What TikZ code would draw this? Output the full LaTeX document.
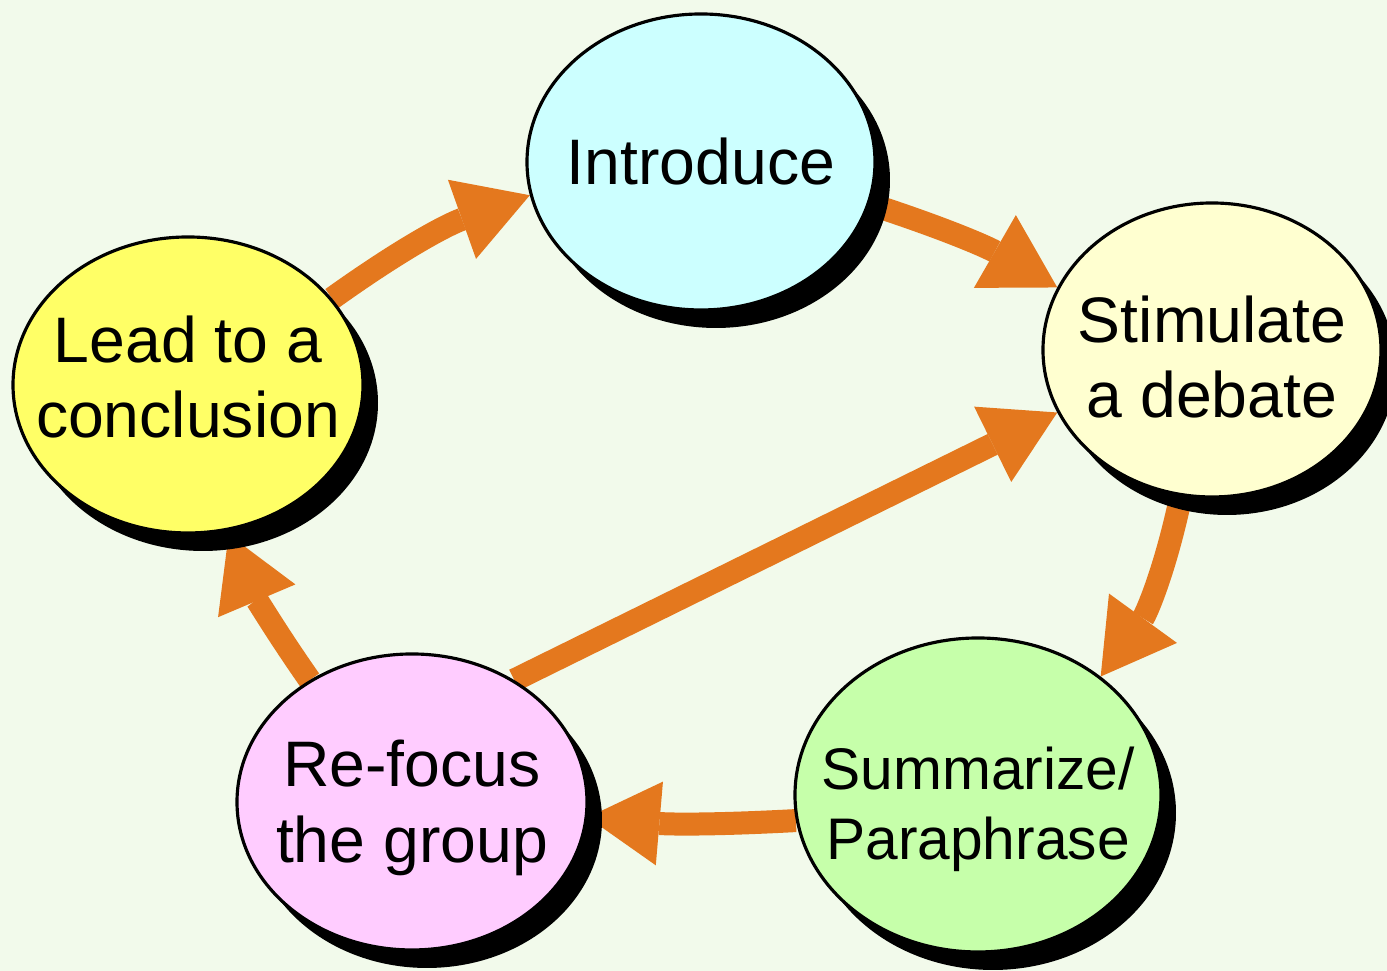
\documentclass[tikz,border=0pt]{standalone}
\usepackage{fontspec}
\setmainfont{Liberation Sans}
\usetikzlibrary{arrows.meta,shapes.geometric,shadows,backgrounds}
\definecolor{bgc}{RGB}{242,250,235}
\definecolor{arrc}{RGB}{228,120,30}
\definecolor{introc}{RGB}{204,255,255}
\definecolor{stimc}{RGB}{255,255,208}
\definecolor{leadc}{RGB}{255,255,102}
\definecolor{focusc}{RGB}{255,204,255}
\definecolor{summc}{RGB}{198,255,170}
\begin{document}
\begin{tikzpicture}[
        bubble/.style={ellipse,draw=black,line width=0.9pt,inner sep=0pt,
            drop shadow={shadow xshift=0.15cm,shadow yshift=-0.18cm,fill=black,opacity=1}},
        txt/.style={align=center,inner sep=0pt,font=\fontsize{18.3}{21.6}\selectfont},
        flow/.style={draw=arrc,line width=0.23cm,
            -{Triangle[length=0.72cm,width=0.84cm,line width=0pt]}}
    ]
    \useasboundingbox (0,0) rectangle (13.87,9.71);
    \begin{scope}[on background layer]
        \fill[bgc] (0,0) rectangle (13.87,9.71);
    \end{scope}
    \node[bubble,fill=introc,minimum width=3.48cm,minimum height=2.96cm,
        label={[txt]center:Introduce}] (intro) at (7.01,8.09) {};
    \node[bubble,fill=stimc,minimum width=3.38cm,minimum height=2.94cm,
        label={[txt,yshift=-0.07cm]center:{Stimulate\\a debate}}] (stim) at (12.12,6.21) {};
    \node[bubble,fill=leadc,minimum width=3.5cm,minimum height=2.96cm,
        label={[txt,yshift=0.08cm]center:{Lead to a\\conclusion}}] (lead) at (1.88,5.86) {};
    \node[bubble,fill=focusc,minimum width=3.5cm,minimum height=2.96cm,
        label={[txt,yshift=-0.06cm]center:{Re-focus\\the group}}] (refocus) at (4.12,1.69) {};
    \node[bubble,fill=summc,minimum width=3.66cm,minimum height=3.14cm,
        label={[txt,yshift=-0.14cm,font=\fontsize{16.7}{20}\selectfont]center:{Summarize/\\Paraphrase}}] (summ) at (9.78,1.76) {};
    \begin{scope}[on background layer]
        \draw[flow] (lead.31) to[bend left=8] (intro.191);
        \draw[flow] (intro.-14) to[bend left=6] (stim.158);
        \draw[flow] (stim.-102) to[bend left=12] (summ.44);
        \draw[flow] (summ.188) to[bend left=4] (refocus.-5);
        \draw[flow,shorten >=0.04cm] (refocus.130) to[bend left=6] (lead.-75);
        \draw[flow] (refocus.50) -- (stim.202);
    \end{scope}
\end{tikzpicture}
\end{document}
